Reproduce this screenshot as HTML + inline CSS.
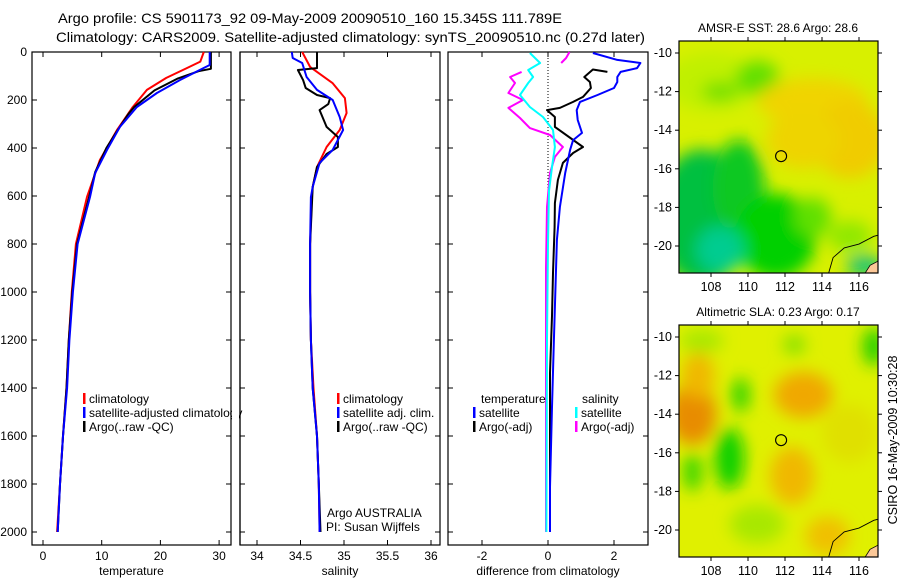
<!DOCTYPE html>
<html><head><meta charset="utf-8"><style>
html,body{margin:0;padding:0;background:#fff;}
svg{display:block;font-family:"Liberation Sans",sans-serif;}
</style></head><body>
<svg id="chart" width="900" height="580" viewBox="0 0 900 580" xmlns="http://www.w3.org/2000/svg">
<defs>
<filter id="blur8" x="-50%" y="-50%" width="200%" height="200%"><feGaussianBlur stdDeviation="8"/></filter>
<clipPath id="clipM1"><rect x="679" y="41" width="199" height="232"/></clipPath>
<clipPath id="clipM2"><rect x="679" y="325" width="199" height="232"/></clipPath>
</defs>
<text x="58" y="23" font-size="14" textLength="504" lengthAdjust="spacingAndGlyphs">Argo profile: CS 5901173_92 09-May-2009 20090510_160 15.345S 111.789E</text>
<text x="56" y="42" font-size="14" textLength="589" lengthAdjust="spacingAndGlyphs">Climatology: CARS2009. Satellite-adjusted climatology: synTS_20090510.nc (0.27d later)</text>
<g id="plots"></g>
<g id="maps"></g>
<text transform="translate(897,440) rotate(-90)" text-anchor="middle" font-size="12.5">CSIRO 16-May-2009 10:30:28</text>
</svg>
<script>
// ---------- data ----------
const depthTicks = [0,200,400,600,800,1000,1200,1400,1600,1800,2000];
const tempTicks = [0,10,20,30];
const salTicks = [34,34.5,35,35.5,36];
const diffTicks = [-2,0,2];

const tClimDepth = [0,40,67,108,158,229,325,450,604,800,1000,1200,1400,1600,1800,2000];
const tClimVal   = [27.4,26.8,24.5,21,17.7,15.3,12.6,9.7,7.5,5.6,4.9,4.4,4.0,3.4,2.9,2.4];
const tSatDepth = [0,54,75,117,171,229,312,408,504,604,800,1000,1200,1400,1600,1800,2000];
const tSatVal   = [28.4,28.4,26.7,23.3,19.4,16.0,13.1,10.9,8.9,8.0,5.9,5.1,4.5,4.1,3.4,2.9,2.5];
const tArgoDepth = [0,70,80,110,160,230,260,330,400,500,600,800,1000,1200,1400,1600,1800,2000];
const tArgoVal   = [28.6,28.6,26.5,23,19,15.5,14.5,12.6,10.8,8.9,7.9,5.8,5.0,4.4,4.0,3.4,2.9,2.5];

const sClimDepth = [0,62,130,192,254,325,396,479,562,604,800,1000,1200,1400,1600,1800,2000];
const sClimVal   = [34.52,34.61,34.87,35.01,35.03,34.95,34.80,34.69,34.64,34.63,34.61,34.61,34.62,34.65,34.69,34.71,34.72];
const sSatDepth = [0,25,46,104,158,200,271,325,408,462,562,604,800,1000,1200,1400,1600,1800,2000];
const sSatVal   = [34.40,34.41,34.52,34.57,34.69,34.87,34.95,34.99,34.87,34.72,34.64,34.62,34.61,34.61,34.62,34.64,34.69,34.71,34.72];
const sArgoDepth = [0,67,75,117,150,179,192,217,242,312,354,396,425,479,562,800,1000,1200,1400,1600,1800,2000];
const sArgoVal   = [34.69,34.69,34.47,34.53,34.56,34.69,34.84,34.82,34.72,34.80,34.93,34.93,34.80,34.69,34.64,34.61,34.61,34.62,34.64,34.69,34.71,34.73];

const dTSatDepth = [4,33,46,67,83,104,125,150,179,208,242,283,337,367,408,504,646,783,1062,1200,1479,1812,2000];
const dTSatVal   = [1.36,2.1,2.8,2.7,2.2,2.1,2.1,2.0,1.5,0.97,0.87,0.9,1.03,0.76,0.67,0.52,0.36,0.27,0.21,0.18,0.12,0.06,0.06];
const dTArgoDepth = [83,73,104,125,150,187,208,233,242,271,312,396,421,462,533,629,729,921,1100,1337,1750,2000];
const dTArgoVal   = [1.8,1.36,1.1,1.27,1.3,1.06,0.76,0.36,-0.03,0.21,0.21,1.06,0.76,0.45,0.3,0.21,0.2,0.15,0.12,0.06,0.06,0.06];
const dSSatDepth = [4,46,75,104,129,179,229,271,325,396,479,579,800,1200,2000];
const dSSatVal   = [-0.55,-0.24,-0.6,-0.45,-0.6,-0.85,-0.55,-0.15,0.15,0.21,0.12,0.03,0.0,-0.03,-0.05];
const dSArgoTopDepth = [0,25,46];
const dSArgoTopVal   = [0.65,0.55,0.4];
const dSArgoDepth = [83,104,129,171,200,233,275,317,346,396,437,504,646,900,1400,2000];
const dSArgoVal   = [-0.8,-1.15,-1.0,-1.2,-0.76,-1.2,-0.85,-0.55,0.06,0.45,0.21,0.06,-0.03,-0.06,-0.06,-0.06];

const lonTicks = [108,110,112,114,116];
const latTicks = [-10,-12,-14,-16,-18,-20];
const argoLon = 111.789, argoLat = -15.345;

// ---------- helpers ----------
const NS='http://www.w3.org/2000/svg';
const plots=document.getElementById('plots');
const maps=document.getElementById('maps');
function mk(tag,attrs,parent){const e=document.createElementNS(NS,tag);for(const k in attrs)e.setAttribute(k,attrs[k]);(parent||plots).appendChild(e);return e;}
const yD = d => 52 + d*0.24;
const TOP=52, BOT=545;

function panel(name,x0,x1,xs,ticks,fmt,label){
  const g=mk('g',{});
  
  
  const r=mk('rect',{x:x0,y:TOP,width:x1-x0,height:BOT-TOP,fill:'none',stroke:'#000','stroke-width':1.2},g);
  
  
  ticks.forEach(t=>{
    const x=xs(t);
    mk('line',{x1:x,x2:x,y1:BOT,y2:BOT-5,stroke:'#000'},g);
    mk('line',{x1:x,x2:x,y1:TOP,y2:TOP+5,stroke:'#000'},g);
    const tx=mk('text',{x:x,y:BOT+15,'font-size':12,'text-anchor':'middle'},g);
    tx.textContent=fmt(t);
    
    
  });
  depthTicks.forEach(d=>{
    const y=yD(d);
    mk('line',{x1:x0,x2:x0+5,y1:y,y2:y,stroke:'#000'},g);
    mk('line',{x1:x1,x2:x1-5,y1:y,y2:y,stroke:'#000'},g);
  });
  const lb=mk('text',{x:(x0+x1)/2,y:BOT+30,'font-size':12,'text-anchor':'middle'},g);
  lb.textContent=label;
  
  
  return g;
}
function line(name,xs,depths,vals,color,w){
  let d='';
  for(let i=0;i<depths.length;i++){d+=(i?'L':'M')+xs(vals[i]).toFixed(1)+','+yD(depths[i]).toFixed(1);}
  const p=mk('path',{d:d,fill:'none',stroke:color,'stroke-width':w||2,'stroke-linejoin':'round'});
  
  
  return p;
}
function legend(name,x,y,color,text){
  const b=mk('rect',{x:x,y:y-10,width:2.5,height:11,fill:color});
  
  
  if(text){const t=mk('text',{x:x+6,y:y,'font-size':12});t.textContent=text;
  
  }
}
function txt(name,x,y,s,anchor){const t=mk('text',{x:x,y:y,'font-size':12,'text-anchor':anchor||'start'});t.textContent=s;
  
  return t;}

depthTicks.forEach(d=>{txt('depth-tick-label',27,yD(d)+4,String(d),'end');});

// panel 1 temperature
const xT = v => 43 + v*5.87;
panel('temperature-panel',32,231,xT,tempTicks,String,'temperature');
line('temperature-climatology',xT,tClimDepth,tClimVal,'#ff0000');
line('temperature-argo',xT,tArgoDepth,tArgoVal,'#000000');
line('temperature-satellite-adjusted',xT,tSatDepth,tSatVal,'#0000ff');
legend('legend-climatology',83,403,'#ff0000','climatology');
legend('legend-satellite-adjusted',83,417,'#0000ff','satellite-adjusted climatology');
legend('legend-argo-raw',83,431,'#000','Argo(..raw -QC)');
mk('rect',{x:232,y:400,width:7,height:20,fill:'#fff'});
mk('line',{x1:240,x2:240,y1:TOP,y2:BOT,stroke:'#000','stroke-width':1.2});

// panel 2 salinity
const xS = v => 257 + (v-34)*87;
panel('salinity-panel',240,440,xS,salTicks,String,'salinity');
line('salinity-climatology',xS,sClimDepth,sClimVal,'#ff0000');
line('salinity-argo',xS,sArgoDepth,sArgoVal,'#000000');
line('salinity-satellite-adjusted',xS,sSatDepth,sSatVal,'#0000ff');
legend('legend-sal-climatology',337,403,'#ff0000','climatology');
legend('legend-sal-satellite',337,417,'#0000ff','satellite adj. clim.');
legend('legend-sal-argo',337,431,'#000','Argo(..raw -QC)');
txt('argo-australia-label',327,517,'Argo AUSTRALIA');
txt('pi-label',326,531,'PI: Susan Wijffels');

// panel 3 differences
const xDf = v => 548 + v*33;
panel('difference-panel',448,648,xDf,diffTicks,String,'difference from climatology');
mk('line',{x1:548,x2:548,y1:TOP,y2:200,stroke:'#000','stroke-dasharray':'1,2'});
line('diff-salinity-argo-top',xDf,dSArgoTopDepth,dSArgoTopVal,'#ff00ff');
line('diff-salinity-argo',xDf,dSArgoDepth,dSArgoVal,'#ff00ff');
line('diff-salinity-satellite',xDf,dSSatDepth,dSSatVal,'#00ffff');
line('diff-temperature-argo',xDf,dTArgoDepth,dTArgoVal,'#000000');
line('diff-temperature-satellite',xDf,dTSatDepth,dTSatVal,'#0000ff');
txt('legend-temperature-heading',481,403,'temperature');
legend('legend-diff-temp-satellite',473,417,'#0000ff','satellite');
legend('legend-diff-temp-argo',473,431,'#000','Argo(-adj)');
txt('legend-salinity-heading',582,403,'salinity');
legend('legend-diff-sal-satellite',575,417,'#00ffff','satellite');
legend('legend-diff-sal-argo',575,431,'#ff00ff','Argo(-adj)');

// ---------- maps ----------
const lonX = lon => 711 + (lon-108)*18.5;
function mapPanel(name,top,y10,clip,title,blobs,base){
  const latY = lat => y10 + (-10-lat)*19.3;
  const g=mk('g',{},maps);
  
  
  const inner=mk('g',{'clip-path':'url(#'+clip+')'},g);
  mk('rect',{x:679,y:top,width:199,height:232,fill:base},inner);
  const bg=mk('g',{filter:'url(#blur8)'},inner);
  blobs.forEach(b=>{mk('ellipse',{cx:lonX(b[0]),cy:latY(b[1]),rx:b[2]*18.5,ry:b[3]*19.3,fill:b[4]},bg);});
  const coast=[[114.3,-21.6],[114.6,-20.6],[115.2,-20.1],[116,-19.9],[116.8,-19.5],[117.2,-19.4]];
  let d='';coast.forEach((c,i)=>{d+=(i?'L':'M')+lonX(c[0])+','+latY(c[1]);});
  mk('path',{d:'M'+lonX(116.2)+','+latY(-21.6)+'L'+lonX(116.6)+','+latY(-21)+'L'+lonX(117.2)+','+latY(-20.7)+'L'+lonX(117.2)+','+latY(-21.6)+'Z',fill:'#fcc898',stroke:'#000','stroke-width':0.8},inner);
  mk('path',{d:d,fill:'none',stroke:'#000','stroke-width':0.9},inner);
  const fr=mk('rect',{x:679,y:top,width:199,height:232,fill:'none',stroke:'#000','stroke-width':1.2},g);
  
  
  lonTicks.forEach(l=>{const x=lonX(l);
    mk('line',{x1:x,x2:x,y1:top,y2:top-4,stroke:'#000'},g);
    mk('line',{x1:x,x2:x,y1:top+232,y2:top+236,stroke:'#000'},g);
    const t=mk('text',{x:x,y:top+250,'font-size':12.5,'text-anchor':'middle'},g);t.textContent=String(l);
    
    });
  latTicks.forEach(l=>{const y=latY(l);
    mk('line',{x1:679,x2:675,y1:y,y2:y,stroke:'#000'},g);
    mk('line',{x1:878,x2:882,y1:y,y2:y,stroke:'#000'},g);
    const t=mk('text',{x:672,y:y+4,'font-size':12.5,'text-anchor':'end'},g);t.textContent=String(l);
    
    });
  const c=mk('circle',{cx:lonX(argoLon),cy:latY(argoLat),r:5.5,fill:'none',stroke:'#000','stroke-width':1.1},g);
  
  
  const tt=mk('text',{x:778,y:top-9,'font-size':12,'text-anchor':'middle'},g);tt.textContent=title;
  
  
}
const sstBlobs=[
 [108,-11.5,2.5,1.5,'#c0f000'],[110.5,-11.3,1.2,0.9,'#60e000'],[108.5,-12,1,0.5,'#70e000'],[113.5,-12.5,3,1.2,'#f0d400'],[115.5,-14.5,2,2,'#f0cc00'],
 [113,-14.5,2,1.5,'#eed400'],[107.5,-18.5,2.5,3.5,'#00c040'],[109.5,-17,1.4,2.5,'#10c820'],[111.5,-19.5,2.2,2.2,'#00d000'],
 [108.5,-20.2,1.3,1.2,'#00cc90'],[113.5,-18.5,1,1,'#60e000'],[115.5,-19.5,1.2,0.8,'#90e800'],[116.3,-21,1,0.5,'#00c080']];
mapPanel('sst-map',41,53,'clipM1','AMSR-E SST: 28.6 Argo: 28.6',sstBlobs,'#d8f000');
const slaBlobs=[
 [107,-14,1.3,1.6,'#e88c00'],[107.3,-12,0.9,1.2,'#f0b800'],[113,-13,1.6,1.2,'#f0a800'],[112.4,-17.2,1.2,1.5,'#f0b800'],
 [114.3,-20.3,1.2,1,'#f0c000'],[109.6,-13,0.5,0.9,'#30d400'],[109,-16.3,0.8,1.6,'#10d000'],[107,-17,0.5,1,'#30d400'],
 [110.5,-19.7,1.5,1,'#a8e800'],[116.8,-10.5,0.6,1,'#20d000'],[112.5,-10.4,0.6,0.5,'#80e000'],[107.5,-10.2,1.2,0.6,'#a8e800'],
 [115.5,-15,1.5,1.5,'#e0e000']];
mapPanel('sla-map',325,337,'clipM2','Altimetric SLA: 0.23 Argo: 0.17',slaBlobs,'#e0f000');
</script>
</body></html>
